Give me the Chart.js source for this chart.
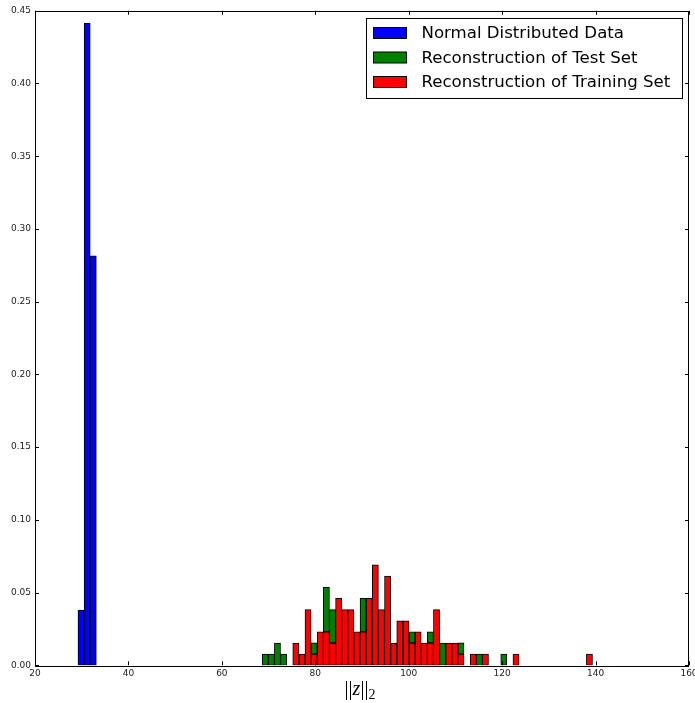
<!DOCTYPE html>
<html>
<head>
<meta charset="utf-8">
<script src="https://cdn.jsdelivr.net/npm/chart.js@4.4.0/dist/chart.umd.min.js"></script>
<style>
  html, body { margin: 0; padding: 0; background: #fff; }
  #wrap { width: 695px; height: 703px; }
</style>
</head>
<body>
<div id="wrap"><canvas id="myChart" width="695" height="703"></canvas></div>
<script>
// histogram bins (left edge of first bin, width of one bin)
var binWidth = 1.3095;
var blueStart = 29.2;
var recStart = 68.63;

// Normal Distributed Data, 3 bins
var blueValues = [0.038, 0.4413, 0.2815];

// Reconstruction of Training Set (bottom of the stack), 54 bins
var redValues = [
  0, 0, 0, 0, 0, 0.0153, 0.0077, 0.0383, 0.0077, 0.0230,
  0.0230, 0.0153, 0.0460, 0.0383, 0.0383, 0.0230, 0.0230, 0.0460, 0.0690, 0.0383,
  0.0613, 0.0153, 0.0306, 0.0306, 0.0153, 0.0230, 0.0153, 0.0153, 0.0383, 0,
  0.0153, 0.0153, 0.0077, 0, 0.0077, 0, 0.0077, 0, 0, 0,
  0, 0.0077, 0, 0, 0, 0, 0, 0, 0, 0,
  0, 0, 0, 0.0077
];

// Reconstruction of Test Set (stacked on top), 54 bins
var greenValues = [
  0.0077, 0.0077, 0.0153, 0.0077, 0, 0, 0, 0, 0.0077, 0,
  0.0306, 0.0230, 0, 0, 0, 0, 0.0230, 0, 0, 0,
  0, 0, 0, 0, 0.0077, 0, 0, 0.0077, 0, 0.0153,
  0, 0, 0.0077, 0, 0, 0.0077, 0, 0, 0, 0.0077,
  0, 0, 0, 0, 0, 0, 0, 0, 0, 0,
  0, 0, 0, 0
];

var labels = ["Normal Distributed Data", "Reconstruction of Test Set", "Reconstruction of Training Set"];
var barColors = ["#0000FF", "#008000", "#FF0000"];
var xTicks = [20, 40, 60, 80, 100, 120, 140, 160];
var yTicks = [0, 0.05, 0.10, 0.15, 0.20, 0.25, 0.30, 0.35, 0.40, 0.45];

function toPoints(start, values) {
  return values.map(function (v, i) {
    return { x: start + (i + 0.5) * binWidth, y: v > 0 ? v : null };
  });
}

var framePlugin = {
  id: 'frame',
  afterDraw: function (chart) {
    var ctx = chart.ctx;
    var a = chart.chartArea;
    var xs = chart.scales.x, ys = chart.scales.y;
    ctx.save();
    ctx.strokeStyle = '#000';
    ctx.lineWidth = 1;
    ctx.strokeRect(Math.round(a.left) + 0.5, Math.round(a.top) + 0.5,
      Math.round(a.right - a.left) - 1, Math.round(a.bottom - a.top));
    // inward ticks on all sides
    ctx.beginPath();
    xTicks.forEach(function (t) {
      var px = Math.round(xs.getPixelForValue(t)) + 0.5;
      ctx.moveTo(px, a.bottom); ctx.lineTo(px, a.bottom - 4);
      ctx.moveTo(px, a.top); ctx.lineTo(px, a.top + 4);
    });
    yTicks.forEach(function (t) {
      var py = Math.round(ys.getPixelForValue(t)) + 0.5;
      ctx.moveTo(a.left, py); ctx.lineTo(a.left + 4, py);
      ctx.moveTo(a.right, py); ctx.lineTo(a.right - 4, py);
    });
    ctx.stroke();

    // axis title ||z||_2
    ctx.fillStyle = '#000';
    ctx.textBaseline = 'alphabetic';
    var cx = 360, by = 695;
    var parts = [
      { t: '||', f: '20px "Liberation Serif"', dy: 0 },
      { t: 'z', f: 'italic 20px "Liberation Serif"', dy: 0 },
      { t: '||', f: '20px "Liberation Serif"', dy: 0 },
      { t: '2', f: '14px "Liberation Serif"', dy: 4 }
    ];
    var total = 0;
    parts.forEach(function (p) { ctx.font = p.f; p.w = ctx.measureText(p.t).width; total += p.w; });
    var x = cx - total / 2;
    parts.forEach(function (p) { ctx.font = p.f; ctx.fillText(p.t, x, by + p.dy); x += p.w; });

    // legend box in the upper right corner
    var bx = 366.5, bw = 316, by0 = 18.5, bh = 80;
    ctx.fillStyle = '#fff';
    ctx.fillRect(bx, by0, bw, bh);
    ctx.strokeRect(bx, by0, bw, bh);
    var rows = [33, 57.5, 82];
    ctx.font = '16.6px "DejaVu Sans"';
    ctx.textBaseline = 'middle';
    labels.forEach(function (lab, i) {
      ctx.fillStyle = barColors[i];
      ctx.fillRect(373.5, rows[i] - 5.5, 33, 11);
      ctx.strokeRect(373.5, rows[i] - 5.5, 33, 11);
      ctx.fillStyle = '#000';
      ctx.fillText(lab, 421.5, rows[i] + 1);
    });
    ctx.restore();
  }
};

new Chart("myChart", {
  type: "bar",
  data: {
    datasets: [{
      label: labels[0],
      backgroundColor: barColors[0],
      data: toPoints(blueStart, blueValues)
    }, {
      label: labels[2],
      backgroundColor: barColors[2],
      data: toPoints(recStart, redValues)
    }, {
      label: labels[1],
      backgroundColor: barColors[1],
      data: toPoints(recStart, greenValues)
    }]
  },
  options: {
    responsive: false,
    animation: false,
    layout: { padding: { top: 10.7, right: 6, left: 0, bottom: 0 } },
    datasets: {
      bar: {
        borderColor: "#000",
        borderWidth: 1,
        borderSkipped: false,
        barPercentage: 1,
        categoryPercentage: 1
      }
    },
    scales: {
      x: {
        type: "linear",
        stacked: true,
        offset: false,
        min: 20,
        max: 160,
        grid: { display: false, offset: false, drawTicks: false },
        border: { display: false },
        afterFit: function (s) { s.height = 37.7; s.paddingLeft = 0; s.paddingRight = 0; },
        ticks: {
          stepSize: 20,
          padding: 3,
          maxRotation: 0,
          color: "#222",
          font: { family: "DejaVu Sans", size: 9 }
        }
      },
      y: {
        stacked: true,
        min: 0,
        max: 0.45,
        grid: { display: false, drawTicks: false },
        border: { display: false },
        afterFit: function (s) { s.width = 35; s.paddingTop = 0; s.paddingBottom = 0; },
        ticks: {
          stepSize: 0.05,
          padding: 4,
          color: "#222",
          font: { family: "DejaVu Sans", size: 9 },
          callback: function (v) { return v.toFixed(2); }
        }
      }
    },
    plugins: {
      legend: { display: false },
      tooltip: { enabled: false }
    }
  },
  plugins: [framePlugin]
});
</script>
</body>
</html>
